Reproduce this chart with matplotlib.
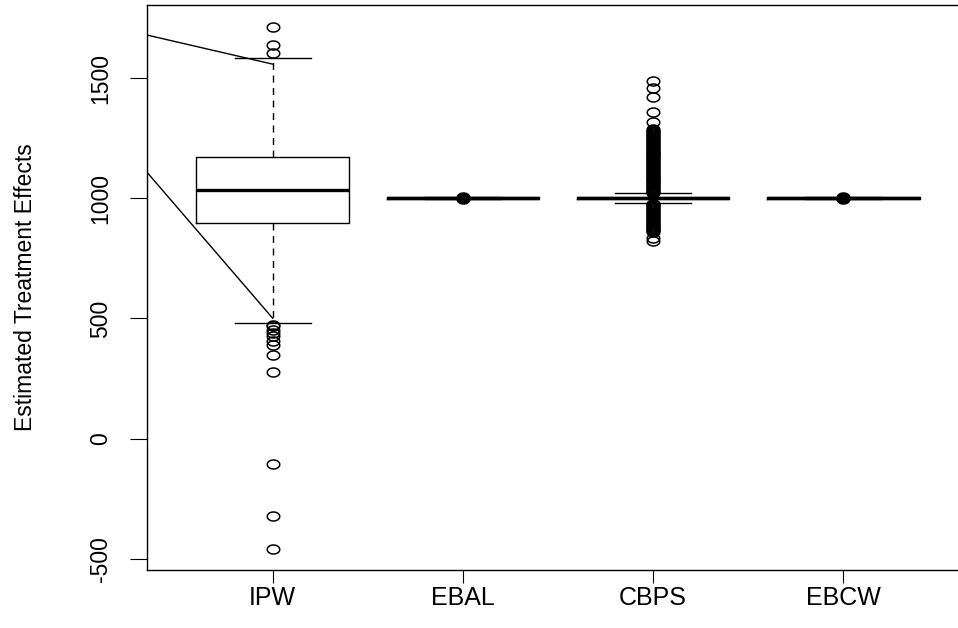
import matplotlib
matplotlib.use('Agg')
import matplotlib.pyplot as plt
import numpy as np
from matplotlib.path import Path

# box statistics
groups = ['IPW', 'EBAL', 'CBPS', 'EBCW']
q1 = [898, 997, 997, 997]
medians = [1035, 1000, 1000, 1000]
q3 = [1172, 1003, 1003, 1003]
whisker_lo = [482, 996, 981, 996]
whisker_hi = [1582, 1004, 1022, 1004]

fliers_ipw = [1712, 1638, 1604,
              474, 467, 453, 440, 425, 404, 390, 349, 276, -104, -323, -458]
fliers_ebal = [995, 1000, 1005]
fliers_cbps = [1488, 1459, 1421, 1359, 1318,
               1286, 1282, 1278, 1274, 1270, 1266, 1262, 1258, 1254, 1250,
               1246, 1242, 1238, 1234, 1230, 1226, 1222, 1218, 1214, 1210,
               1206, 1202, 1198, 1194, 1190, 1186, 1182, 1178, 1174, 1170,
               1166, 1162, 1158, 1154, 1150, 1146, 1142, 1138, 1134, 1130,
               1126, 1122, 1118, 1114, 1110, 1106, 1102, 1098, 1094, 1090,
               1086, 1082, 1078, 1074, 1070, 1066, 1062, 1058, 1054, 1050,
               1046, 1042, 1038, 1034, 1030, 1026, 1023,
               978, 974, 970, 966, 962, 958, 954, 950, 946, 942, 938, 934,
               930, 926, 922, 918, 914, 910, 906, 902, 898, 894, 890, 886,
               882, 878, 874, 870, 866, 862, 858, 835, 820]
fliers_ebcw = [995, 1000, 1005]

# the two slanted lines (value at left edge, value at IPW)
line_upper = [1679, 1558]
line_lower = [1108, 501]

yticks = [-500, 0, 500, 1000, 1500]

sans = ['Liberation Sans', 'DejaVu Sans']

Figure = plt.figure(figsize=(9.58, 6.28), dpi=100)
ax = Figure.add_axes([147/958, 58/628, 822/958, 565/628])

X = [1, 2, 3, 4]
stats = []
for g, a, m, b, lo, hi in zip(groups, q1, medians, q3, whisker_lo, whisker_hi):
    stats.append(dict(label=g, q1=a, med=m, q3=b, whislo=lo, whishi=hi, fliers=[]))

ax.bxp(stats, positions=X, widths=0.8, capwidths=0.4, showfliers=False,
       boxprops=dict(color='black', linewidth=1.0),
       medianprops=dict(color='black', linewidth=2.4, solid_capstyle='butt'),
       whiskerprops=dict(color='black', linewidth=1.0, linestyle=(0, (5, 4))),
       capprops=dict(color='black', linewidth=1.0))

# open circles, squashed a bit like the source
theta = np.linspace(0, 2*np.pi, 73)
ring = Path(np.column_stack([np.cos(theta), 0.72*np.sin(theta)]))

faces = ['none', 'black', 'none', 'black']
for pos, vals, fc in zip(X, [fliers_ipw, fliers_ebal, fliers_cbps, fliers_ebcw], faces):
    ax.plot(np.full(len(vals), pos), vals, linestyle='none', marker=ring,
            markersize=9, markerfacecolor=fc, markeredgecolor='black',
            markeredgewidth=1.1)

ax.plot([0.34, 1], line_upper, color='black', linewidth=1.0)
ax.plot([0.34, 1], line_lower, color='black', linewidth=1.0)

ax.set_xlim(0.34, 4.66)
ax.set_ylim(-547, 1804)

ax.set_xticks(X)
ax.set_xticklabels(groups, fontsize=18, family=sans)
ax.tick_params(axis='x', length=9.5, width=0.8, pad=2)

ax.set_yticks(yticks)
ax.set_yticklabels([str(v) for v in yticks], rotation=90, va='center',
                   fontsize=16.5, family=sans)
ax.tick_params(axis='y', length=12.2, width=0.8, pad=13)

ax.set_ylabel('Estimated Treatment Effects', fontsize=16.5, family=sans)
ax.yaxis.set_label_coords(-0.134, 0.5)

for s in ax.spines.values():
    s.set_linewidth(1.0)

plt.savefig('out.png', dpi=100)
